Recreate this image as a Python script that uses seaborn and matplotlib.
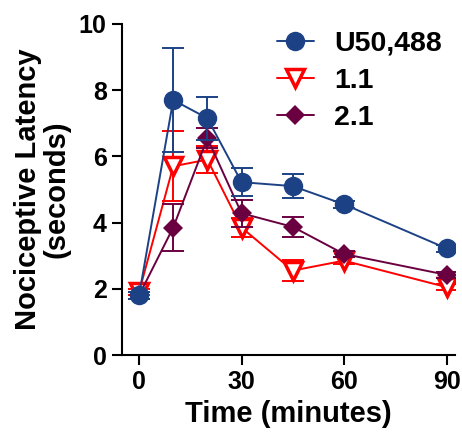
import matplotlib
matplotlib.use("Agg")
import matplotlib.pyplot as plt
import seaborn as sns
import pandas as pd
import numpy as np

time_min = [0, 10, 20, 30, 45, 60, 90]
series_names = ["U50,488", "1.1", "2.1"]
u50_mean = [1.8, 7.7, 7.15, 5.22, 5.1, 4.55, 3.22]
u50_sem = [0.1, 1.58, 0.65, 0.43, 0.37, 0.1, 0.1]
c11_mean = [1.9, 5.7, 5.9, 3.85, 2.55, 2.85, 2.05]
c11_sem = [0.1, 1.05, 0.4, 0.3, 0.32, 0.1, 0.1]
c21_mean = [1.8, 3.85, 6.55, 4.28, 3.87, 3.05, 2.42]
c21_sem = [0.1, 0.7, 0.3, 0.4, 0.3, 0.1, 0.1]
x_ticks = [0, 30, 60, 90]
y_ticks = [0, 2, 4, 6, 8, 10]

sns.set_style("ticks")
plt.rcParams["font.family"] = ["Liberation Sans", "DejaVu Sans"]
plt.rcParams["font.weight"] = "bold"
plt.rcParams["text.color"] = "black"
plt.rcParams["axes.labelcolor"] = "black"
plt.rcParams["xtick.color"] = "black"
plt.rcParams["ytick.color"] = "black"
plt.rcParams["axes.edgecolor"] = "black"

fig = plt.figure(figsize=(4.62, 4.34), dpi=100)
ax = fig.add_axes([0.264, 0.182, 0.721, 0.763])

means = {"U50,488": u50_mean, "1.1": c11_mean, "2.1": c21_mean}
sems = {"U50,488": u50_sem, "1.1": c11_sem, "2.1": c21_sem}
colors = {"U50,488": "#1c4285", "1.1": "#ff0000", "2.1": "#6b0040"}
markers = {"U50,488": "o", "1.1": "v", "2.1": "D"}
msizes = {"U50,488": 14, "1.1": 13, "2.1": 10}
zorders = {"U50,488": 5, "1.1": 3, "2.1": 4}

rows = []
for n in series_names:
    for t, m in zip(time_min, means[n]):
        rows.append({"Time": t, "Latency": m, "Group": n})
df = pd.DataFrame(rows)

handles = {}
for n in ["1.1", "2.1", "U50,488"]:
    sub = df[df["Group"] == n]
    ax.errorbar(sub["Time"], sub["Latency"], yerr=sems[n], fmt="none",
                ecolor=colors[n], elinewidth=1.4, capsize=8, capthick=1.4,
                zorder=zorders[n])
    mfc = "white" if n == "1.1" else colors[n]
    sns.lineplot(data=sub, x="Time", y="Latency", ax=ax, color=colors[n],
                 linewidth=1.4, marker=markers[n], markersize=msizes[n],
                 markerfacecolor=mfc, markeredgecolor=colors[n],
                 markeredgewidth=2.5 if n == "1.1" else 0, zorder=zorders[n] + 0.5,
                 label=n, legend=False)
    handles[n] = plt.Line2D([], [], color=colors[n], linewidth=1.4,
                            marker=markers[n], markersize=msizes[n],
                            markerfacecolor=mfc, markeredgecolor=colors[n],
                            markeredgewidth=2.5 if n == "1.1" else 0)

ax.legend([handles[n] for n in series_names], series_names, loc="upper left",
          bbox_to_anchor=(0.465, 0.98), frameon=False, borderpad=0,
          borderaxespad=0, prop={"weight": "bold", "size": 20.5},
          handlelength=1.3, labelspacing=0.4, handletextpad=0.7)

ax.set_xlim(-5, 92.5)
ax.set_ylim(0, 10)
ax.set_xticks(x_ticks)
ax.set_yticks(y_ticks)
ax.tick_params(axis="both", labelsize=18, width=1.5, length=7, direction="out",
               pad=4, colors="black")
for lab in ax.get_xticklabels() + ax.get_yticklabels():
    lab.set_fontweight("bold")
ax.set_xlabel("Time (minutes)", fontsize=21, fontweight="bold", labelpad=4,
              color="black")
ax.set_ylabel("Nociceptive Latency\n(seconds)", fontsize=21, fontweight="bold",
              linespacing=1.0, labelpad=6, color="black")
for s in ["left", "bottom"]:
    ax.spines[s].set_linewidth(1.5)
    ax.spines[s].set_color("black")
sns.despine(ax=ax)

fig.savefig("out.png", dpi=100)
